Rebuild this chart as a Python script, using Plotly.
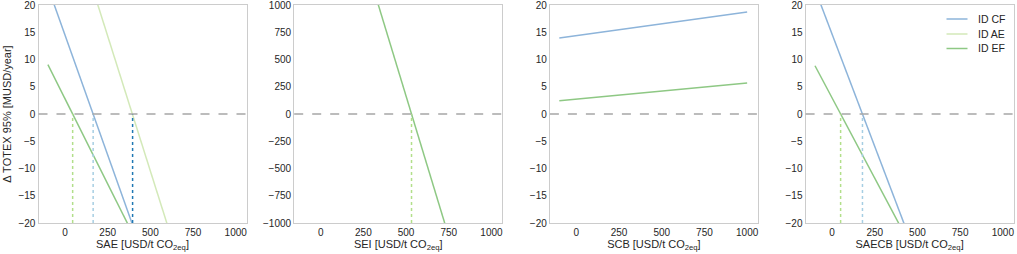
import plotly.graph_objects as go

W, H = 1017, 254

# ---- data ----
panels = ["SAE", "SEI", "SCB", "SAECB"]
series = ["ID CF", "ID AE", "ID EF"]
x_ends = [-100, 1000]

# y-values at x = -100 and x = 1000 for each panel / series
sae_cf = [23.3, -73.5]
sae_ae = [49.0, -60.0]
sae_ef = [9.06, -59.7]
sei_ef = [3255, -2410]
scb_cf = [13.95, 18.7]
scb_ef = [2.45, 5.7]
saecb_cf = [22.9, -67.8]
saecb_ef = [8.85, -56.0]

# break-even (zero-crossing) positions
sae_zero = {"ID CF": 165, "ID AE": 396, "ID EF": 45}
sei_zero = {"ID EF": 532}
saecb_zero = {"ID CF": 178, "ID EF": 50}

x_ticks = [0, 250, 500, 750, 1000]
y_ticks_small = [-20, -15, -10, -5, 0, 5, 10, 15, 20]
y_ticks_sei = [-1000, -750, -500, -250, 0, 250, 500, 750, 1000]

line_colors = {"ID CF": "#8db4da", "ID AE": "#d3e9b9", "ID EF": "#8ec884"}
dot_colors = {"ID CF": "#a6cee3", "ID AE": "#1f78b4", "ID EF": "#b2df8a"}

panel_lines = [
    {"ID CF": sae_cf, "ID AE": sae_ae, "ID EF": sae_ef},
    {"ID EF": sei_ef},
    {"ID CF": scb_cf, "ID EF": scb_ef},
    {"ID CF": saecb_cf, "ID EF": saecb_ef},
]
panel_zeros = [sae_zero, sei_zero, {}, saecb_zero]
panel_yr = [[-20, 20], [-1000, 1000], [-20, 20], [-20, 20]]
panel_yt = [y_ticks_small, y_ticks_sei, y_ticks_small, y_ticks_small]

fig = go.Figure()

left0, step, pw = 38.5, 255.7, 208.0
font = "Liberation Sans, Arial, sans-serif"
tick_col = "#262626"
T, B = 5, 31

for i, p in enumerate(panels):
    ax = "" if i == 0 else str(i + 1)
    xa, ya = "x" + ax, "y" + ax
    for s in series:
        if s in panel_lines[i]:
            fig.add_trace(go.Scatter(
                x=x_ends, y=panel_lines[i][s], mode="lines", name=s,
                line=dict(color=line_colors[s], width=1.5),
                xaxis=xa, yaxis=ya, showlegend=False, hoverinfo="skip"))
    fig.add_shape(type="line", xref=xa + " domain", yref=ya, x0=0, x1=1, y0=0, y1=0,
                  line=dict(color="#a6a6a6", width=1.3, dash="dash"))
    for s, xz in panel_zeros[i].items():
        fig.add_trace(go.Scatter(
            x=[xz, xz], y=[panel_yr[i][0], 0], mode="lines",
            line=dict(color=dot_colors[s], width=1.5, dash="dot"),
            xaxis=xa, yaxis=ya, showlegend=False, hoverinfo="skip"))
    l = (left0 + step * i) / W
    r = (left0 + step * i + pw) / W
    xkw = dict(domain=[l, r], range=[-155, 1063], tickvals=x_ticks,
               showgrid=False, zeroline=False, showline=True, mirror=True,
               linecolor="#cccccc", linewidth=1.2, ticks="", ticklabeloverflow="allow",
               tickfont=dict(family=font, size=10, color=tick_col),
               title=dict(text=p + " [USD/t CO<sub>2eq</sub>]",
                          font=dict(family=font, size=11, color=tick_col), standoff=2),
               anchor=ya)
    ykw = dict(range=panel_yr[i], tickvals=panel_yt[i], domain=[0, 1],
               showgrid=False, zeroline=False, showline=True, mirror=True,
               linecolor="#cccccc", linewidth=1.2, ticks="", ticklabeloverflow="allow",
               tickfont=dict(family=font, size=10, color=tick_col), anchor=xa)
    if i == 0:
        ykw["title"] = dict(text="Δ TOTEX 95% [MUSD/year]",
                            font=dict(family=font, size=11, color=tick_col), standoff=4)
    fig.update_layout({"xaxis" + ax: xkw, "yaxis" + ax: ykw})

# custom legend (compact rows, like the reference)
leg_rows_px = [19, 34, 48.5]
for s, ypx in zip(series, leg_rows_px):
    yp = 1 - (ypx - T) / (H - T - B)
    fig.add_shape(type="line", xref="paper", yref="paper",
                  x0=946.5 / W, x1=967.5 / W, y0=yp, y1=yp,
                  line=dict(color=line_colors[s], width=1.5))
    fig.add_annotation(x=975.5 / W, y=yp, xref="paper", yref="paper", text=s,
                       showarrow=False, xanchor="left", yanchor="middle",
                       font=dict(family=font, size=10.5, color=tick_col))

fig.update_layout(
    width=W, height=H,
    margin=dict(l=0, r=0, t=T, b=B),
    paper_bgcolor="white", plot_bgcolor="white",
    showlegend=False,
)

fig.write_html("out.html", config={"displayModeBar": False},
               post_script="document.body.style.margin='0px';")
